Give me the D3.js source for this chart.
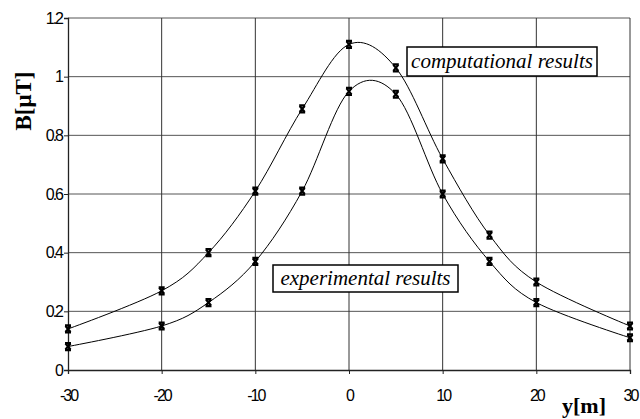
<!DOCTYPE html>
<html>
<head>
<meta charset="utf-8">
<script src="https://cdn.jsdelivr.net/npm/d3@7"></script>
<style>
  body { margin: 0; background: #fff; }
  svg { display: block; }
</style>
</head>
<body>
<svg id="chart" width="640" height="419"></svg>
<script>
'use strict';

const positions = [-30, -20, -15, -10, -5, 0, 5, 10, 15, 20, 30];
const computational = [0.14, 0.27, 0.40, 0.61, 0.89, 1.11, 1.03, 0.72, 0.46, 0.30, 0.15];
const experimental = [0.08, 0.15, 0.23, 0.37, 0.61, 0.95, 0.94, 0.60, 0.37, 0.23, 0.11];
const xTicks = [-30, -20, -10, 0, 10, 20, 30];
const yTicks = [0, 0.2, 0.4, 0.6, 0.8, 1, 1.2];

const SERIF = '"Liberation Serif"';
const SANS = '"Liberation Sans"';

const LEFT = 68;
const RIGHT = 630;
const TOP = 18;
const BOTTOM = 370;

const svg = d3.select('#chart');

const x = d3.scaleLinear().domain([-30, 30]).range([LEFT, RIGHT]);
const y = d3.scaleLinear().domain([0, 1.2]).range([BOTTOM, TOP]);

// grid
svg.append('g')
    .selectAll('line')
    .data(yTicks.filter(d => d > 0))
    .enter()
    .append('line')
    .attr('x1', LEFT).attr('x2', RIGHT)
    .attr('y1', d => y(d)).attr('y2', d => y(d))
    .attr('stroke', '#555').attr('stroke-width', 1);

svg.append('g')
    .selectAll('line')
    .data(xTicks.filter(d => d > -30))
    .enter()
    .append('line')
    .attr('x1', d => x(d)).attr('x2', d => x(d))
    .attr('y1', TOP).attr('y2', BOTTOM)
    .attr('stroke', '#333').attr('stroke-width', 1);

// axes
const yAxis = d3.axisLeft(y)
    .tickValues(yTicks)
    .tickSize(4)
    .tickFormat(d => d === 0 ? '0' : (d === 1 ? '1' : d3.format('.1f')(d)));

const gY = svg.append('g')
    .attr('transform', 'translate(' + LEFT + ',0)')
    .call(yAxis);

const xAxis = d3.axisBottom(x)
    .tickValues(xTicks)
    .tickSize(4)
    .tickFormat(d => String(d));

const gX = svg.append('g')
    .attr('transform', 'translate(0,' + BOTTOM + ')')
    .call(xAxis);

[gX, gY].forEach(g => {
    g.attr('font-family', null).attr('font-size', null);
    g.select('.domain').attr('stroke', '#222').attr('stroke-width', 1.3);
    g.selectAll('.tick line').attr('stroke', '#222');
    g.selectAll('.tick text')
        .attr('fill', '#000')
        .style('font-family', SANS)
        .style('font-size', '16px')
        .style('letter-spacing', '-2px');
});
gY.selectAll('.tick text').attr('x', -6);
gX.selectAll('.tick text').attr('y', 20);

// curves
const line = d3.line()
    .x((d, i) => x(positions[i]))
    .y(d => y(d))
    .curve(d3.curveCatmullRom.alpha(0));

const marker = 'M-3,-3.5 L3,-3.5 M-3,3.5 L3,3.5 M-2.5,-3 L2.5,3 M2.5,-3 L-2.5,3';

[computational, experimental].forEach(series => {
    svg.append('path')
        .datum(series)
        .attr('d', line)
        .attr('fill', 'none')
        .attr('stroke', '#000')
        .attr('stroke-width', 1);

    svg.append('g')
        .selectAll('path')
        .data(series)
        .enter()
        .append('path')
        .attr('transform', (d, i) => 'translate(' + x(positions[i]) + ',' + y(d) + ')')
        .attr('d', marker)
        .attr('fill', 'none')
        .attr('stroke', '#000')
        .attr('stroke-width', 2.2);
});

// annotation boxes
const labels = [
    {text: 'computational results', x: 407, y: 47, w: 190, h: 29},
    {text: 'experimental results', x: 273, y: 265, w: 185, h: 27}
];

labels.forEach(l => {
    svg.append('rect')
        .attr('x', l.x).attr('y', l.y)
        .attr('width', l.w).attr('height', l.h)
        .attr('fill', '#fff')
        .attr('stroke', '#000')
        .attr('stroke-width', 1.5);
    svg.append('text')
        .attr('x', l.x + l.w / 2)
        .attr('y', l.y + l.h / 2 + 6)
        .attr('text-anchor', 'middle')
        .style('font-family', SERIF)
        .style('font-style', 'italic')
        .style('font-size', '21px')
        .text(l.text);
});

// axis titles
svg.append('text')
    .attr('transform', 'translate(31,101) rotate(-90)')
    .attr('text-anchor', 'middle')
    .style('font-family', SERIF)
    .style('font-weight', 'bold')
    .style('font-size', '23px')
    .text('B[μT]');

svg.append('text')
    .attr('x', 584)
    .attr('y', 413)
    .attr('text-anchor', 'middle')
    .style('font-family', SERIF)
    .style('font-weight', 'bold')
    .style('font-size', '22px')
    .text('y[m]');
</script>
</body>
</html>
